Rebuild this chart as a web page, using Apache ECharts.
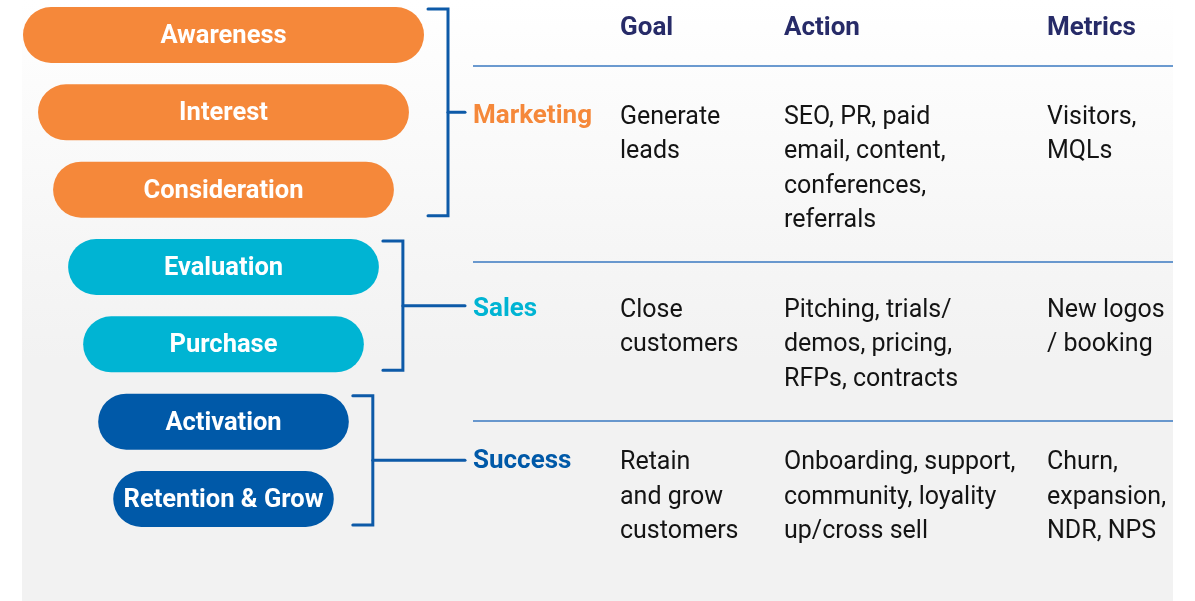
<!DOCTYPE html>
<html>
<head>
<meta charset="utf-8">
<script src="https://cdn.jsdelivr.net/npm/echarts@6/dist/echarts.min.js"></script>
<style>
html,body{margin:0;padding:0;background:#ffffff;}
#main{width:1195px;height:601px;}
</style>
</head>
<body>
<div id="main"></div>
<script>
// ---- data ----
var stages = ['Awareness', 'Interest', 'Consideration', 'Evaluation', 'Purchase', 'Activation', 'Retention & Grow'];
var stageWidths = [400, 370, 340, 310, 280, 250, 220];
var stageGroups = [0, 0, 0, 1, 1, 2, 2];
var groups = ['Marketing', 'Sales', 'Success'];
var groupColors = ['#f5883a', '#00b4d3', '#0059a8'];
var headers = ['Goal', 'Action', 'Metrics'];
var goals = ['Generate\nleads', 'Close\ncustomers', 'Retain\nand grow\ncustomers'];
var actions = ['SEO, PR, paid\nemail, content,\nconferences,\nreferrals', 'Pitching, trials/\ndemos, pricing,\nRFPs, contracts', 'Onboarding, support,\ncommunity, loyality\nup/cross sell'];
var metrics = ['Visitors,\nMQLs', 'New logos\n/ booking', 'Churn,\nexpansion,\nNDR, NPS'];

var maxW = Math.max.apply(null, stageWidths);
var offsets = stageWidths.map(function (w) { return (maxW - w) / 2; });

var chart = echarts.init(document.getElementById('main'), null, {renderer: 'canvas'});
var FONT = 'Roboto';
var option = {
  animation: false,
  grid: {left: 23, width: 401, top: 35, height: 464},
  xAxis: {type: 'value', min: 0, max: maxW, show: false},
  yAxis: {type: 'category', data: stages, inverse: true, show: false, boundaryGap: false},
  series: [
    {type: 'bar', stack: 'f', clip: false, data: offsets, itemStyle: {color: 'transparent'}, barWidth: 56, silent: true},
    {type: 'bar', stack: 'f', clip: false, barWidth: 56,
      data: stageWidths.map(function (w, i) {
        return {value: w, itemStyle: {color: groupColors[stageGroups[i]], borderRadius: 28}};
      }),
      label: {show: true, position: 'inside', offset: [0, 1.5], formatter: function (p) { return stages[p.dataIndex]; },
        color: '#ffffff', fontFamily: FONT, fontWeight: 'bold', fontSize: 25.5}
    }
  ]
};
chart.setOption(option);

// ---- overlay: brackets, table ----
var BR = '#0d5aa8';
var rowDy = [3, 3, 0.5];
var els = [];
els.push({type: 'rect', z: -10, shape: {x: 22, y: 0, width: 1151, height: 601},
  style: {fill: new echarts.graphic.LinearGradient(0, 0, 0, 1, [
    {offset: 0, color: '#ffffff'}, {offset: 0.6, color: '#f2f2f2'}, {offset: 1, color: '#f2f2f2'}])}});

var colX = [620, 784, 1047];
headers.forEach(function (h, i) {
  els.push({type: 'text', x: colX[i], y: 28, style: {text: h, fill: '#272b68', font: 'bold 26px ' + FONT, textVerticalAlign: 'middle'}});
});
[66, 262, 421].forEach(function (y) {
  els.push({type: 'line', shape: {x1: 473, y1: y, x2: 1173, y2: y}, style: {stroke: '#3a78c0', lineWidth: 1.5}});
});

var armEnd = 465;
groups.forEach(function (g, gi) {
  var idx = [];
  stageGroups.forEach(function (s, i) { if (s === gi) idx.push(i); });
  var right = -Infinity;
  idx.forEach(function (i) {
    var px = chart.convertToPixel({gridIndex: 0}, [offsets[i] + stageWidths[i], i])[0];
    if (px > right) right = px;
  });
  var yTop = chart.convertToPixel({gridIndex: 0}, [0, idx[0]])[1] - 28 + 2;
  var yBot = chart.convertToPixel({gridIndex: 0}, [0, idx[idx.length - 1]])[1] + 28 - 2;
  var x0 = right + 4, xv = right + 24, ym = (yTop + yBot) / 2;
  els.push({type: 'polyline', shape: {points: [[x0, yTop], [xv, yTop], [xv, yBot], [x0, yBot]]},
    style: {stroke: BR, lineWidth: 3, fill: null, lineCap: 'round', lineJoin: 'miter'}});
  els.push({type: 'line', shape: {x1: xv, y1: ym, x2: armEnd, y2: ym}, style: {stroke: BR, lineWidth: 3, lineCap: 'round'}});
  els.push({type: 'text', x: 473, y: ym + 1 + rowDy[gi], style: {text: g, fill: groupColors[gi], font: 'bold 26px ' + FONT, textVerticalAlign: 'middle'}});
  [goals, actions, metrics].forEach(function (arr, ci) {
    els.push({type: 'text', x: colX[ci], y: ym + 2 + rowDy[gi] - 17.25,
      style: {text: arr[gi], fill: '#141414', font: '25px ' + FONT, lineHeight: 34.5, textVerticalAlign: 'top'}});
  });
});
chart.setOption({graphic: {elements: els}});
</script>
</body>
</html>
